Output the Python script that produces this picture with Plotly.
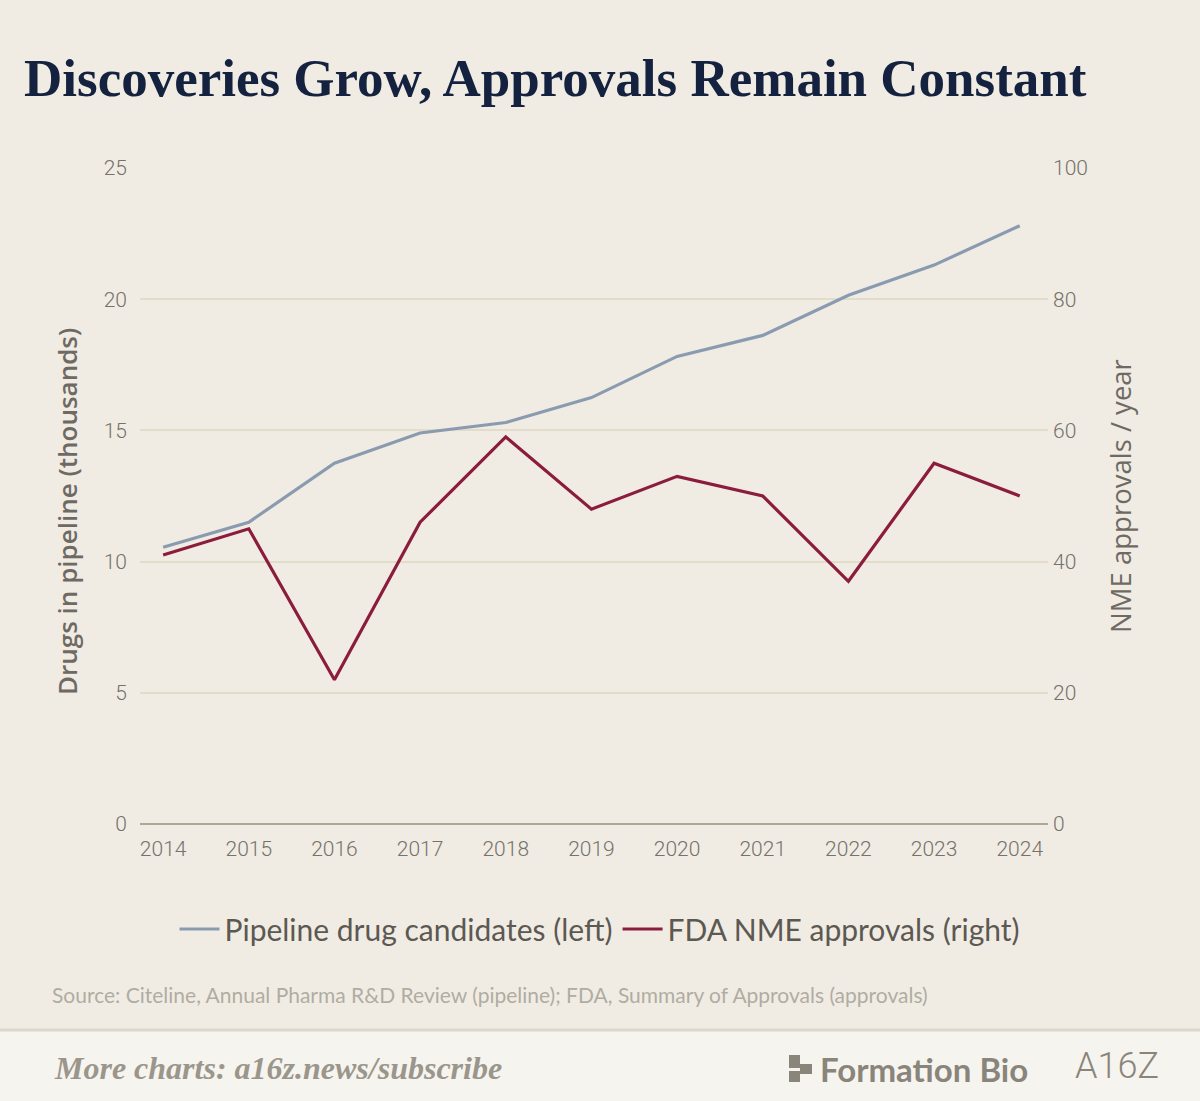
import plotly.graph_objects as go

# data
years = [2014, 2015, 2016, 2017, 2018, 2019, 2020, 2021, 2022, 2023, 2024]
pipeline_k = [10.55, 11.5, 13.75, 14.9, 15.3, 16.25, 17.82, 18.62, 20.15, 21.3, 22.8]
nme_approvals = [41, 45, 22, 46, 59, 48, 53, 50, 37, 55, 50]

left_ticks = [0, 5, 10, 15, 20, 25]
right_ticks = [0, 20, 40, 60, 80, 100]

BG = "#f0ece4"
GRID = "#e2ddca"
TICK_COL = "#75716b"
BLUE = "#8a9bb0"
RED = "#8c1c3c"

W, H = 1200, 1101

fig = go.Figure()
fig.add_trace(go.Scatter(x=years, y=pipeline_k, mode="lines",
                         name="Pipeline drug candidates (left)",
                         line=dict(color=BLUE, width=3.2), yaxis="y"))
fig.add_trace(go.Scatter(x=years, y=nme_approvals, mode="lines",
                         name="FDA NME approvals (right)",
                         line=dict(color=RED, width=3.2), yaxis="y2"))

tick_font = dict(family="Roboto, sans-serif", size=21, color=TICK_COL, weight=300)
axis_title_font = dict(family="Open Sans, sans-serif", size=26, color="#6e6a63")

fig.update_layout(
    width=W, height=H,
    paper_bgcolor=BG, plot_bgcolor=BG,
    margin=dict(l=0, r=0, t=0, b=0, autoexpand=False),
    showlegend=True,
    legend=dict(orientation="h", x=0.5, xanchor="center", y=1 - 929 / H, yanchor="middle",
                font=dict(family="Lato, Open Sans, sans-serif", size=30, color="#5c5852"),
                bgcolor="rgba(0,0,0,0)", itemwidth=40),
    xaxis=dict(domain=[140 / W, 1048 / W], range=[2013.73, 2024.33], automargin=False,
               tickvals=years, ticktext=[str(y) for y in years],
               tickfont=tick_font, showgrid=False, zeroline=False, showline=False,
               ticks="", ticklabelstandoff=10),
    yaxis=dict(domain=[1 - 824 / H, 1 - 168 / H], range=[0, 25], automargin=False,
               tickvals=left_ticks, tickfont=tick_font,
               showgrid=True, gridcolor=GRID, gridwidth=2,
               zeroline=True, zerolinecolor="#aca898", zerolinewidth=2,
               showline=False, ticks="", ticklabelstandoff=12),
    yaxis2=dict(overlaying="y", side="right", range=[0, 100], automargin=False,
                tickvals=right_ticks, tickfont=tick_font,
                showgrid=False, zeroline=False, showline=False, ticks="",
                ticklabelstandoff=4,
                title=dict(text="NME approvals / year", standoff=24,
                           font=dict(axis_title_font, size=27.5))),
)

# left axis title, placed a little below the domain centre like the original
fig.add_annotation(text="Drugs in pipeline (thousands)", textangle=-90,
                   xref="paper", yref="paper", x=67 / W, y=1 - 512 / H,
                   xanchor="center", yanchor="middle", showarrow=False,
                   font=dict(axis_title_font, weight=600))

# title
fig.add_annotation(text="<b>Discoveries Grow, Approvals Remain Constant</b>",
                   xref="paper", yref="paper", x=22 / W, y=1 - 78 / H,
                   xanchor="left", yanchor="middle", showarrow=False,
                   font=dict(family="Liberation Serif, serif", size=53, color="#14223f"))

# source line
fig.add_annotation(text="Source: Citeline, Annual Pharma R&D Review (pipeline); FDA, Summary of Approvals (approvals)",
                   xref="paper", yref="paper", x=50 / W, y=1 - 994 / H,
                   xanchor="left", yanchor="middle", showarrow=False,
                   font=dict(family="Lato, sans-serif", size=21, color="#b1aca2"))

# footer band
fig.add_shape(type="rect", xref="paper", yref="paper", x0=0, x1=1, y0=0, y1=1 - 1030 / H,
              fillcolor="#f6f4ef", line=dict(width=0), layer="below")
fig.add_shape(type="line", xref="paper", yref="paper", x0=0, x1=1,
              y0=1 - 1030 / H, y1=1 - 1030 / H, line=dict(color="#dcd7cb", width=3))

fig.add_annotation(text="<i>More charts: a16z.news/subscribe</i>",
                   xref="paper", yref="paper", x=52 / W, y=1 - 1068 / H,
                   xanchor="left", yanchor="middle", showarrow=False,
                   font=dict(family="Liberation Serif, serif", size=32, color="#9b968b", weight=600))

# Formation Bio mark
fig.add_shape(type="rect", xref="paper", yref="paper", x0=789 / W, x1=800 / W,
              y0=1 - 1068 / H, y1=1 - 1055 / H, fillcolor="#8a857a", line=dict(width=0))
fig.add_shape(type="rect", xref="paper", yref="paper", x0=800 / W, x1=812 / W,
              y0=1 - 1074 / H, y1=1 - 1064 / H, fillcolor="#8a857a", line=dict(width=0))
fig.add_shape(type="rect", xref="paper", yref="paper", x0=789 / W, x1=800 / W,
              y0=1 - 1082 / H, y1=1 - 1071 / H, fillcolor="#8a857a", line=dict(width=0))
fig.add_annotation(text="<b>Formation Bio</b>",
                   xref="paper", yref="paper", x=818 / W, y=1 - 1069 / H,
                   xanchor="left", yanchor="middle", showarrow=False,
                   font=dict(family="Lato, sans-serif", size=33, color="#8a857a"))
fig.add_annotation(text="A16Z",
                   xref="paper", yref="paper", x=1073 / W, y=1 - 1066 / H,
                   xanchor="left", yanchor="middle", showarrow=False,
                   font=dict(family="Roboto, sans-serif", size=36, color="#8a857a", weight=300))

fig.write_html("out.html", post_script="document.body.style.margin='0';",
               config={"displayModeBar": False})
